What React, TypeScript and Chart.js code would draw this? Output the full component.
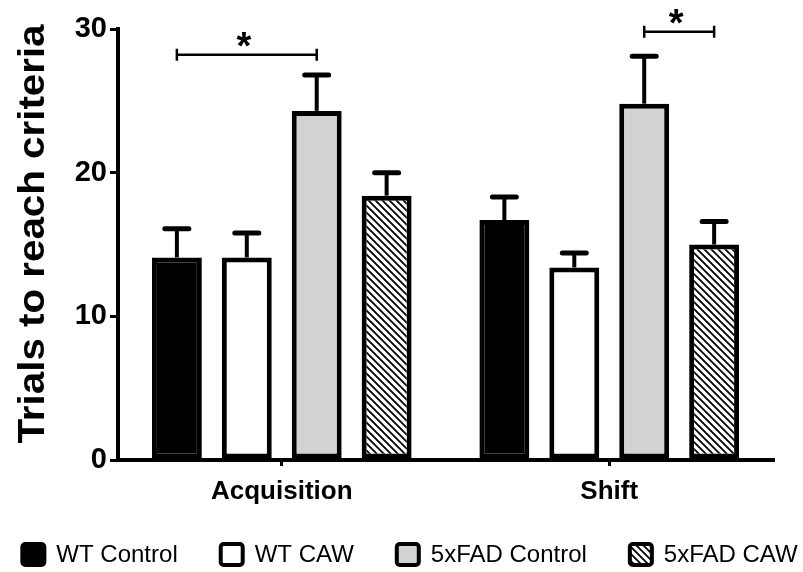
import React, { useEffect, useRef } from "react";
import { Chart, registerables } from "chart.js";

Chart.register(...registerables);

const categories = ["Acquisition", "Shift"];
const seriesNames = ["WT Control", "WT CAW", "5xFAD Control", "5xFAD CAW"];

const wtControl = [14.1, 16.7];
const wtCaw = [14.1, 13.4];
const fadControl = [24.3, 24.8];
const fadCaw = [18.4, 15.0];

const wtControlSem = [2.0, 1.6];
const wtCawSem = [1.7, 1.0];
const fadControlSem = [2.5, 3.3];
const fadCawSem = [1.6, 1.6];

const yTicks = [0, 10, 20, 30];
const yTitle = "Trials to reach criteria";

// significance brackets: category index, from series, to series, height (data units)
const bracketCategory = [0, 1];
const bracketFrom = [0, 2];
const bracketTo = [2, 3];
const bracketLevel = [28.2, 29.8];
const bracketLabel = ["*", "*"];

const FONT = '"Liberation Sans", Arial, Helvetica, sans-serif';

function makeHatch(): CanvasPattern | string {
  const s = 7;
  const c = document.createElement("canvas");
  c.width = s;
  c.height = s;
  const g = c.getContext("2d");
  if (!g) return "#fff";
  g.fillStyle = "#fff";
  g.fillRect(0, 0, s, s);
  g.strokeStyle = "#000";
  g.lineWidth = 1.8;
  g.beginPath();
  g.moveTo(-1, -1);
  g.lineTo(s + 1, s + 1);
  g.moveTo(-1, s - 1);
  g.lineTo(1, s + 1);
  g.moveTo(s - 1, -1);
  g.lineTo(s + 1, 1);
  g.stroke();
  const p = g.createPattern(c, "repeat");
  return p || "#fff";
}

export default function App() {
  const ref = useRef<HTMLCanvasElement | null>(null);

  useEffect(() => {
    if (!ref.current) return;
    const hatch = makeHatch();
    const values = [wtControl, wtCaw, fadControl, fadCaw];
    const sems = [wtControlSem, wtCawSem, fadControlSem, fadCawSem];
    const fills: (string | CanvasPattern)[] = ["#000000", "#ffffff", "#d2d2d2", hatch];

    const extras = {
      id: "extras",
      afterDatasetsDraw(chart: any) {
        const ctx = chart.ctx;
        const yScale = chart.scales.y;
        ctx.save();
        ctx.strokeStyle = "#000";
        // error bars (upper only)
        values.forEach((_, i) => {
          const meta = chart.getDatasetMeta(i);
          meta.data.forEach((el: any, j: number) => {
            const top = yScale.getPixelForValue(values[i][j] + sems[i][j]);
            ctx.lineWidth = 4;
            ctx.lineCap = "butt";
            ctx.beginPath();
            ctx.moveTo(el.x, el.y);
            ctx.lineTo(el.x, top);
            ctx.stroke();
            ctx.lineWidth = 5;
            ctx.lineCap = "round";
            ctx.beginPath();
            ctx.moveTo(el.x - 12, top);
            ctx.lineTo(el.x + 12, top);
            ctx.stroke();
          });
        });
        // significance brackets
        bracketCategory.forEach((cat, k) => {
          const a = chart.getDatasetMeta(bracketFrom[k]).data[cat];
          const b = chart.getDatasetMeta(bracketTo[k]).data[cat];
          const y = yScale.getPixelForValue(bracketLevel[k]);
          ctx.lineWidth = 2.5;
          ctx.lineCap = "butt";
          ctx.beginPath();
          ctx.moveTo(a.x, y);
          ctx.lineTo(b.x, y);
          ctx.moveTo(a.x, y - 6);
          ctx.lineTo(a.x, y + 6);
          ctx.moveTo(b.x, y - 6);
          ctx.lineTo(b.x, y + 6);
          ctx.stroke();
          ctx.fillStyle = "#000";
          ctx.font = `bold 38px ${FONT}`;
          ctx.textAlign = "center";
          ctx.textBaseline = "alphabetic";
          ctx.fillText(bracketLabel[k], (a.x + b.x) / 2 - 3, y + 4);
        });
        ctx.restore();
      },
      afterDraw(chart: any) {
        const ctx = chart.ctx;
        ctx.save();
        // y-axis title
        ctx.translate(44, 234);
        ctx.rotate(-Math.PI / 2);
        ctx.scale(1.12, 1);
        ctx.fillStyle = "#000";
        ctx.font = `bold 36px ${FONT}`;
        ctx.textAlign = "center";
        ctx.textBaseline = "alphabetic";
        ctx.fillText(yTitle, 0, 0);
        ctx.restore();

        // legend
        ctx.save();
        ctx.font = `24px ${FONT}`;
        const box = 26;
        const gapText = 10;
        const gapItem = 41;
        const widths = seriesNames.map((n) => ctx.measureText(n).width);
        const total =
          widths.reduce((s, w) => s + w, 0) +
          seriesNames.length * (box + gapText) +
          (seriesNames.length - 1) * gapItem;
        let x = 409 - total / 2;
        const top = 542;
        seriesNames.forEach((name, i) => {
          ctx.fillStyle = fills[i] as any;
          ctx.strokeStyle = "#000";
          ctx.lineWidth = 4;
          ctx.beginPath();
          (ctx as any).roundRect(x + 2, top + 2, box - 4, box - 5, 3);
          ctx.fill();
          ctx.stroke();
          ctx.fillStyle = "#000";
          ctx.textAlign = "left";
          ctx.textBaseline = "middle";
          ctx.fillText(name, x + box + gapText, top + 13);
          x += box + gapText + widths[i] + gapItem;
        });
        ctx.restore();
      },
    };

    const chart = new Chart(ref.current, {
      type: "bar",
      data: {
        labels: categories,
        datasets: seriesNames.map((name, i) => ({
          label: name,
          data: values[i],
          backgroundColor: fills[i] as any,
          borderColor: "#000",
          borderWidth: 5,
          borderSkipped: false,
          categoryPercentage: 0.854,
          barPercentage: 0.714,
        })),
      },
      options: {
        responsive: false,
        animation: false,
        layout: { padding: { left: 0, right: 30, top: 29, bottom: 0 } },
        plugins: {
          legend: { display: false },
          tooltip: { enabled: false },
          title: { display: false },
        },
        scales: {
          x: {
            offset: true,
            grid: {
              offset: false,
              drawOnChartArea: false,
              drawTicks: true,
              color: "#000",
              lineWidth: 3,
              tickLength: 6,
            },
            border: { display: true, color: "#000", width: 4 },
            ticks: {
              color: "#000",
              font: { family: FONT, size: 26, weight: "bold" },
              padding: 10,
            },
            afterFit(scale: any) {
              scale.height = 112;
            },
          },
          y: {
            min: 0,
            max: 30,
            afterBuildTicks(scale: any) {
              scale.ticks = yTicks.map((v) => ({ value: v }));
            },
            grid: {
              drawOnChartArea: false,
              drawTicks: true,
              color: "#000",
              lineWidth: 3,
              tickLength: 8,
            },
            border: { display: true, color: "#000", width: 4 },
            ticks: {
              color: "#000",
              font: { family: FONT, size: 29, weight: "bold" },
              padding: 3,
            },
            afterFit(scale: any) {
              scale.width = 118;
            },
          },
        },
      },
      plugins: [extras],
    });
    return () => chart.destroy();
  }, []);

  return (
    <div style={{ position: "absolute", left: 0, top: 0, width: 803, height: 572, background: "#fff" }}>
      <canvas ref={ref} width={803} height={572} style={{ display: "block" }} />
    </div>
  );
}
